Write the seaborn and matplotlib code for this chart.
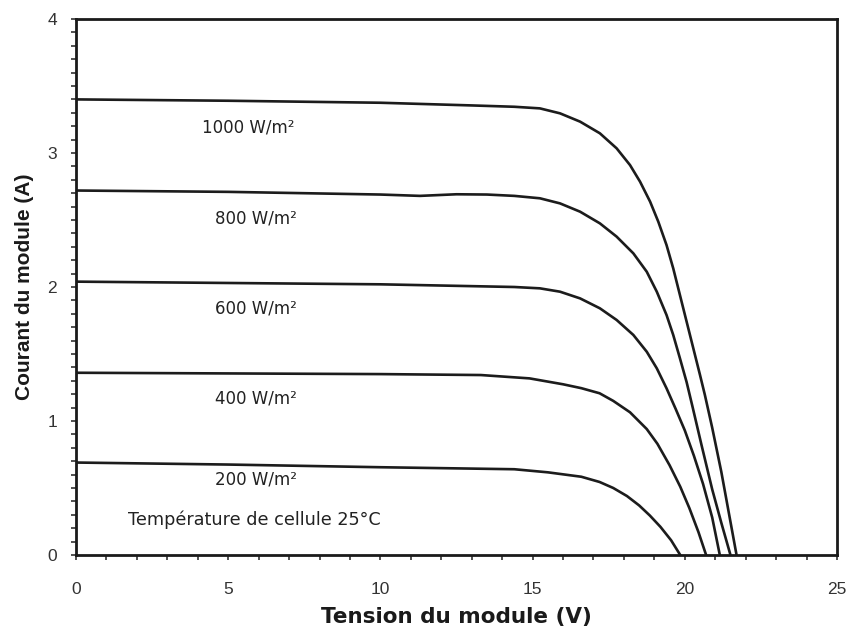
import numpy as np
import pandas as pd
import seaborn as sns
import matplotlib
matplotlib.use("Agg")
import matplotlib.pyplot as plt
from matplotlib.ticker import MultipleLocator

# ---- data ----
irradiances = ["1000 W/m²", "800 W/m²", "600 W/m²", "400 W/m²", "200 W/m²"]

V1000 = [0, 5, 10, 13, 14.4, 15.24, 15.9, 16.56, 17.21, 17.76, 18.2, 18.53, 18.86, 19.13,
         19.4, 19.62, 19.84, 20.06, 20.28, 20.5, 20.66, 20.9, 21.2, 21.45, 21.7]
I1000 = [3.40, 3.39, 3.375, 3.355, 3.345, 3.333, 3.296, 3.234, 3.147, 3.035, 2.91, 2.786, 2.637, 2.487,
         2.313, 2.139, 1.94, 1.741, 1.542, 1.343, 1.194, 0.95, 0.62, 0.31, 0.0]

V800 = [0, 5, 10, 11.3, 12.5, 13.5, 14.4, 15.24, 15.9, 16.56, 17.21, 17.76, 18.31, 18.75, 19.08,
        19.4, 19.62, 19.84, 20.06, 20.25, 20.55, 20.9, 21.2, 21.5]
I800 = [2.72, 2.71, 2.69, 2.68, 2.692, 2.69, 2.68, 2.662, 2.624, 2.562, 2.475, 2.376, 2.251, 2.114, 1.965,
        1.791, 1.642, 1.468, 1.29, 1.11, 0.82, 0.49, 0.24, 0.0]

V600 = [0, 5, 10, 14.4, 15.24, 15.9, 16.56, 17.21, 17.76, 18.31, 18.75, 19.08, 19.4, 19.7,
        20.0, 20.3, 20.6, 20.9, 21.15]
I600 = [2.04, 2.03, 2.02, 2.0, 1.99, 1.965, 1.915, 1.841, 1.754, 1.642, 1.517, 1.393, 1.244, 1.09,
        0.93, 0.74, 0.53, 0.28, 0.0]

V400 = [0, 5, 10, 13.3, 14.9, 16.0, 16.6, 17.2, 17.65, 18.2, 18.75, 19.1, 19.5, 19.85, 20.15, 20.45, 20.7]
I400 = [1.36, 1.355, 1.35, 1.343, 1.318, 1.274, 1.245, 1.207, 1.15, 1.065, 0.94, 0.83, 0.67, 0.51, 0.35, 0.17, 0.0]

V200 = [0, 5, 10, 14.4, 15.5, 16.6, 17.2, 17.65, 18.1, 18.5, 18.85, 19.2, 19.55, 19.85]
I200 = [0.69, 0.675, 0.655, 0.64, 0.617, 0.584, 0.545, 0.50, 0.44, 0.37, 0.295, 0.21, 0.11, 0.0]

label_V = [5.65, 5.9, 5.9, 5.9, 5.9]
label_I = [3.19, 2.51, 1.84, 1.17, 0.56]

x_ticks = [0, 5, 10, 15, 20, 25]
y_ticks = [0, 1, 2, 3, 4]

xlabel = "Tension du module (V)"
ylabel = "Courant du module (A)"
note = "Température de cellule 25°C"

# ---- build table ----
series = [(V1000, I1000), (V800, I800), (V600, I600), (V400, I400), (V200, I200)]
frames = []
for name, (v, i) in zip(irradiances, series):
    frames.append(pd.DataFrame({"V": v, "I": i, "G": name}))
df = pd.concat(frames, ignore_index=True)

sns.set_theme(style="ticks")
plt.rcParams["font.family"] = ["Liberation Sans", "DejaVu Sans"]

fig = plt.figure(figsize=(8.49, 6.37), dpi=100)
ax = fig.add_axes([76 / 849, 1 - 555 / 637, (837 - 76) / 849, (555 - 19) / 637])

sns.lineplot(data=df, x="V", y="I", hue="G", palette=["#1c1c1c"] * 5,
             legend=False, linewidth=1.9, sort=False, estimator=None, ax=ax)

for name, lv, li in zip(irradiances, label_V, label_I):
    ax.text(lv, li, name, ha="center", va="center", fontsize=12, color="#222222",
            family=["DejaVu Sans"])
ax.text(1.7, 0.26, note, ha="left", va="center", fontsize=12.7, color="#222222",
        family=["DejaVu Sans"])

ax.set_xlim(0, 25)
ax.set_ylim(0, 4)
ax.set_xticks(x_ticks)
ax.set_yticks(y_ticks)
ax.xaxis.set_minor_locator(MultipleLocator(1))
ax.yaxis.set_minor_locator(MultipleLocator(0.1))
ax.tick_params(axis="both", which="both", direction="out", length=3.5, width=1.2, color="#333333")
ax.tick_params(axis="x", which="major", pad=16, labelsize=12.5, labelcolor="#333333")
ax.tick_params(axis="y", which="major", pad=10, labelsize=12.5, labelcolor="#333333")

for s in ax.spines.values():
    s.set_visible(True)
    s.set_linewidth(2.0)
    s.set_color("#1a1a1a")

ax.set_xlabel(xlabel, fontsize=15.5, fontweight="bold", labelpad=7, color="#1a1a1a",
              family=["DejaVu Sans"])
ax.set_ylabel(ylabel, fontsize=15, fontweight="bold", labelpad=10, color="#1a1a1a")

fig.savefig("out.png", dpi=100)
